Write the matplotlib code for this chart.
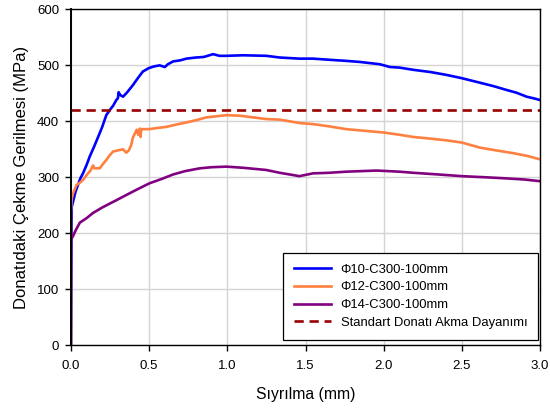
import matplotlib.pyplot as plt

plt.rcParams['font.family'] = ['Liberation Sans', 'DejaVu Sans']

# pull-out curves: slip (mm) vs. bar stress (MPa)
phi10_x = [0.0, 0.005, 0.03, 0.06, 0.077, 0.1, 0.12, 0.15, 0.184, 0.2, 0.226, 0.248,
           0.27, 0.29, 0.3, 0.305, 0.315, 0.333, 0.36, 0.397, 0.43, 0.46, 0.497,
           0.53, 0.567, 0.6, 0.62, 0.653, 0.7, 0.738, 0.8, 0.85, 0.909, 0.95, 0.994,
           1.1, 1.25, 1.335, 1.46, 1.548, 1.65, 1.76, 1.85, 1.975, 2.04, 2.1, 2.19,
           2.3, 2.4, 2.5, 2.615, 2.7, 2.786, 2.85, 2.914, 2.96, 3.0]
phi10_y = [0, 247, 275, 298, 307, 322, 337, 356, 379, 390, 411, 420,
           428, 438, 441, 452, 447, 444, 452, 465, 478, 489, 495,
           498, 500, 497, 502, 507, 509, 512, 514, 515, 520, 517, 517,
           518, 517, 514, 512, 512, 510, 508, 506, 502, 497, 496, 492,
           488, 483, 477, 469, 463, 456, 451, 444, 441, 438]

phi12_x = [0.0, 0.0, 0.005, 0.013, 0.035, 0.06, 0.077, 0.095, 0.109, 0.125, 0.141,
           0.15, 0.184, 0.2, 0.226, 0.25, 0.269, 0.3, 0.333, 0.354, 0.37, 0.386,
           0.395, 0.41, 0.42, 0.43, 0.44, 0.445, 0.45, 0.47, 0.5, 0.55, 0.61, 0.67,
           0.738, 0.8, 0.866, 0.93, 0.994, 1.08, 1.165, 1.25, 1.335, 1.46, 1.548,
           1.65, 1.76, 1.88, 2.0, 2.1, 2.19, 2.3, 2.4, 2.5, 2.615, 2.72, 2.83, 2.92,
           3.0]
phi12_y = [0, 240, 262, 271, 286, 291, 295, 302, 307, 312, 321,
           316, 316, 322, 331, 340, 346, 348, 350, 344, 348, 358,
           370, 379, 385, 376, 387, 372, 386, 386, 386, 388, 390, 394,
           398, 402, 407, 409, 411, 410, 407, 404, 403, 397, 395,
           391, 386, 383, 380, 376, 372, 369, 366, 362, 353, 348, 343, 338,
           332]

phi14_x = [0.0, 0.0, 0.01, 0.03, 0.057, 0.1, 0.14, 0.2, 0.29, 0.4, 0.5, 0.58,
           0.653, 0.73, 0.824, 0.9, 0.994, 1.1, 1.25, 1.335, 1.42, 1.46, 1.548,
           1.65, 1.76, 1.954, 2.1, 2.19, 2.35, 2.5, 2.65, 2.786, 2.9, 3.0]
phi14_y = [0, 190, 193, 205, 219, 227, 236, 246, 259, 275, 289, 297,
           305, 311, 316, 318, 319, 317, 313, 308, 304, 302, 307,
           308, 310, 312, 310, 308, 305, 302, 300, 298, 296, 293]

akma = 420  # standard yield strength

fig = plt.figure(figsize=(5.5, 4.08), dpi=100)
ax = fig.add_axes([0.129, 0.154, 0.853, 0.823])

ax.plot(phi10_x, phi10_y, color='#0000ff', lw=1.9, label='Φ10-C300-100mm')
ax.plot(phi12_x, phi12_y, color='#ff8040', lw=1.9, label='Φ12-C300-100mm')
ax.plot(phi14_x, phi14_y, color='#800080', lw=1.9, label='Φ14-C300-100mm')
ax.axhline(akma, color='#990000', lw=1.9, ls=(0, (3.5, 2.2)),
           label='Standart Donatı Akma Dayanımı')

ax.set_xlim(0, 3)
ax.set_ylim(0, 600)
ax.set_xticks([0, 0.5, 1.0, 1.5, 2.0, 2.5, 3.0])
ax.set_xticklabels(['0.0', '0.5', '1.0', '1.5', '2.0', '2.5', '3.0'])
ax.set_yticks(range(0, 601, 100))
ax.grid(True, color='#d4d4d4', lw=1)
ax.set_axisbelow(True)
ax.tick_params(labelsize=9.5, length=4.5, width=1, colors='black')
ax.tick_params(axis='x', pad=6)
ax.tick_params(axis='y', pad=4)
for s in ax.spines.values():
    s.set_linewidth(1)
ax.spines['left'].set_linewidth(1.4)

ax.set_xlabel('Sıyrılma (mm)', fontsize=11.3, labelpad=11)
ax.set_ylabel('Donatıdaki Çekme Gerilmesi (MPa)', fontsize=12, labelpad=6)

leg = ax.legend(loc='lower right', bbox_to_anchor=(0.996, 0.016), fontsize=9.4,
                fancybox=False, edgecolor='black', framealpha=1,
                handlelength=2.8, handletextpad=0.75, borderpad=0.85,
                labelspacing=0.42, borderaxespad=0)
leg.get_frame().set_linewidth(0.9)

fig.savefig('out.png', dpi=100)
